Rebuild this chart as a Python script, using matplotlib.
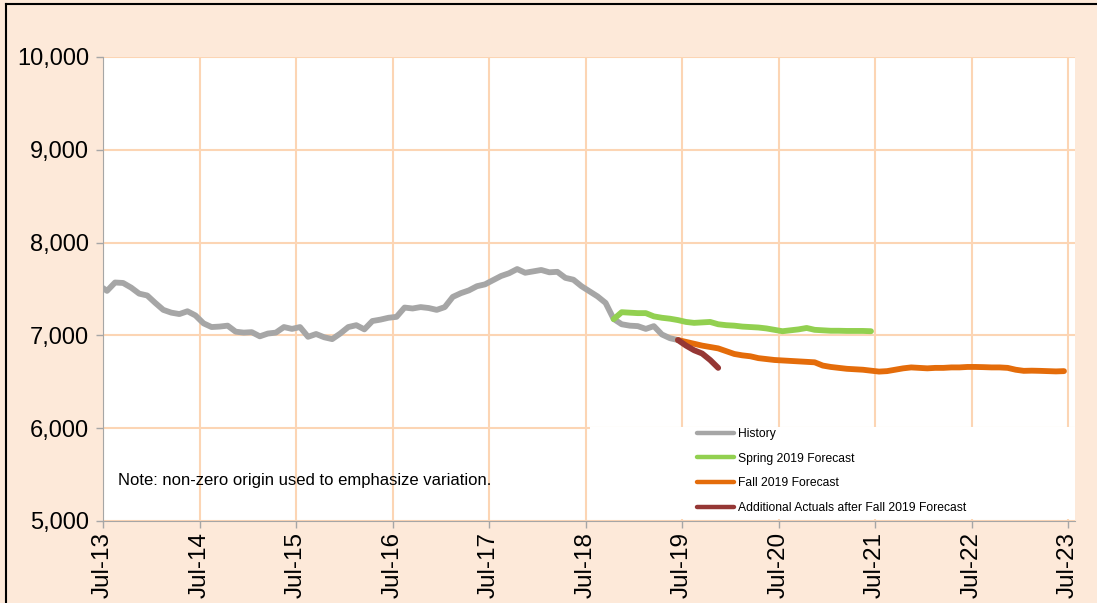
import numpy as np
import matplotlib.pyplot as plt
from matplotlib.lines import Line2D
from matplotlib.patches import Rectangle

plt.rcParams['font.family'] = ['Liberation Sans', 'DejaVu Sans']

# monthly values, first point sits on the Jul-13 axis, the rest mid-month
history = [7510, 7480, 7570, 7565, 7515, 7450, 7430, 7350, 7275, 7245, 7230, 7260,
           7215, 7130, 7090, 7095, 7105, 7040, 7030, 7035, 6990, 7020, 7030, 7090,
           7070, 7090, 6985, 7015, 6980, 6960, 7020, 7090, 7110, 7065, 7155, 7170,
           7190, 7200, 7300, 7290, 7305, 7295, 7275, 7305, 7415, 7455, 7485, 7530,
           7550, 7595, 7640, 7670, 7715, 7675, 7690, 7705, 7680, 7685, 7620, 7600,
           7530, 7475, 7420, 7350, 7177, 7120, 7105, 7100, 7070, 7100, 7010, 6970,
           6950]
spring_start = 63
spring = [7175, 7250, 7245, 7240, 7240, 7205, 7190, 7180, 7165, 7145, 7135, 7140,
          7145, 7120, 7110, 7105, 7095, 7090, 7085, 7075, 7060, 7045, 7055, 7065,
          7080, 7060, 7055, 7050, 7050, 7048, 7048, 7048, 7045]
fall_start = 71
fall = [6950, 6930, 6910, 6890, 6875, 6860, 6830, 6800, 6785, 6775, 6755, 6745,
        6735, 6730, 6725, 6720, 6715, 6710, 6675, 6660, 6650, 6640, 6635, 6630,
        6620, 6610, 6615, 6630, 6645, 6655, 6650, 6645, 6650, 6650, 6655, 6655,
        6660, 6660, 6658, 6655, 6655, 6650, 6630, 6618, 6620, 6618, 6615, 6612,
        6615]
actual_start = 71
actuals = [6950, 6890, 6840, 6805, 6735, 6650]

tick_labels = ['Jul-13', 'Jul-14', 'Jul-15', 'Jul-16', 'Jul-17', 'Jul-18',
               'Jul-19', 'Jul-20', 'Jul-21', 'Jul-22', 'Jul-23']
y_ticks = [5000, 6000, 7000, 8000, 9000, 10000]

bg = '#FDE9D9'
grid_c = '#FCD5B4'
axis_c = '#A6A6A6'

fig = plt.figure(figsize=(10.97, 6.03), dpi=100, facecolor=bg)
ax = fig.add_axes([103 / 1097, 1 - 521 / 603, 972 / 1097, 464 / 603])
ax.set_facecolor('white')

hist_x = np.concatenate([[0], np.arange(len(history) - 1) + 0.5])
spring_x = np.arange(len(spring)) + spring_start + 0.5
fall_x = np.arange(len(fall)) + fall_start + 0.5
act_x = np.arange(len(actuals)) + actual_start + 0.5

lw = 4.2
ax.plot(hist_x, history, color='#A6A6A6', lw=lw, solid_capstyle='round', label='History', zorder=3)
ax.plot(spring_x, spring, color='#92D050', lw=lw, solid_capstyle='round', label='Spring 2019 Forecast', zorder=3)
ax.plot(fall_x, fall, color='#E46C0A', lw=lw, solid_capstyle='round', label='Fall 2019 Forecast', zorder=4)
ax.plot(act_x, actuals, color='#953735', lw=lw, solid_capstyle='round',
        label='Additional Actuals after Fall 2019 Forecast', zorder=5)

ax.set_xlim(0, 972 / 965 * 120)
ax.set_ylim(5000, 10000)
ax.set_xticks(np.arange(len(tick_labels)) * 12)
ax.set_xticklabels(tick_labels, rotation=90, fontsize=17.5)
ax.set_yticks(y_ticks)
ax.set_yticklabels([f'{v:,}' for v in y_ticks], fontsize=17)
ax.tick_params(axis='both', direction='out', length=5, color=axis_c, width=1, pad=3)
ax.tick_params(axis='y', pad=5)

ax.grid(True, color=grid_c, lw=1.5, zorder=0)
ax.set_axisbelow(True)
for s in ['top', 'right']:
    ax.spines[s].set_visible(False)
for s in ['left', 'bottom']:
    ax.spines[s].set_color(axis_c)
    ax.spines[s].set_zorder(6)

# white legend panel covering the grid
ax.add_patch(Rectangle((487 / 972, 0.004), 1 - 487 / 972, 0.198, transform=ax.transAxes,
                       facecolor='white', edgecolor='none', zorder=2))
leg = ax.legend(loc='upper left', bbox_to_anchor=((697 - 103) / 972, (521 - 428) / 464),
                frameon=False, fontsize=8.7, handlelength=3.1, handletextpad=0.3,
                labelspacing=1.05, borderaxespad=0, borderpad=0)
for h in leg.legend_handles:
    h.set_linewidth(3.2)
leg.set_zorder(7)

ax.text(15 / 972, 41 / 464, 'Note: non-zero origin used to emphasize variation.',
        transform=ax.transAxes, fontsize=12, va='center', ha='left', zorder=7)

# black frame lines at top and left of the picture
fig.add_artist(Line2D([6 / 1097, 1], [1 - 4 / 603, 1 - 4 / 603], color='black', lw=1.5))
fig.add_artist(Line2D([6 / 1097, 6 / 1097], [0, 1 - 4 / 603], color='black', lw=1.5))

fig.savefig('out.png', dpi=100, facecolor=bg)
